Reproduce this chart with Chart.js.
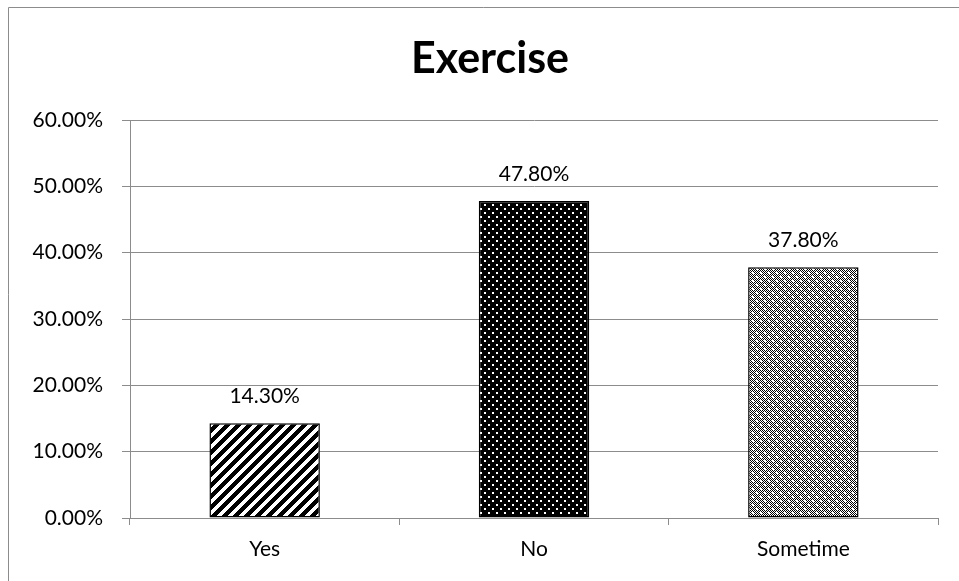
<!DOCTYPE html>
<html>
<head>
<meta charset="utf-8">
<script src="https://cdn.jsdelivr.net/npm/chart.js@4/dist/chart.umd.min.js"></script>
<style>
  html, body { margin: 0; padding: 0; background: #fff; }
  #wrap { width: 959px; height: 581px; }
</style>
</head>
<body>
<div id="wrap"><canvas id="c" width="959" height="581"></canvas></div>
<script>
// Exercise survey answers, share of respondents (%)
const categories = ['Yes', 'No', 'Sometime'];
const shares = [14.3, 47.8, 37.8];
const yTicks = [0, 10, 20, 30, 40, 50, 60];
const chartTitle = 'Exercise';

const FONT = 'Lato, "Open Sans", sans-serif';
const TEXT_SIZE = 21;

// Small fill patterns for the bars
function makeTile(size, painter) {
  const t = document.createElement('canvas');
  t.width = size; t.height = size;
  const g = t.getContext('2d');
  const img = g.createImageData(size, size);
  for (let y = 0; y < size; y++) {
    for (let x = 0; x < size; x++) {
      const black = painter(x, y);
      const i = (y * size + x) * 4;
      const v = black ? 0 : 255;
      img.data[i] = v; img.data[i + 1] = v; img.data[i + 2] = v; img.data[i + 3] = 255;
    }
  }
  g.putImageData(img, 0, 0);
  return g.createPattern(t, 'repeat');
}
const ctx = document.getElementById('c').getContext('2d');
const stripes = makeTile(11, (x, y) => ((x + y) % 11) < 6);
const dotsOnBlack = makeTile(8, (x, y) => {
  const a = (x % 8 < 2) && (y % 8 < 2);
  const b = ((x + 4) % 8 < 2) && ((y + 4) % 8 < 2);
  return !(a || b);
});
const dotsOnGrey = makeTile(8, (x, y) => {
  const a = (x % 8 < 2) && (y % 8 < 2);
  const b = ((x + 4) % 8 < 2) && ((y + 4) % 8 < 2);
  if (a || b) return false;
  return (x + y) % 2 === 0;
});

// Frame lines, title and value labels above the bars
const decorations = {
  id: 'decorations',
  beforeDraw(chart) {
    const c = chart.ctx;
    c.save();
    c.strokeStyle = '#8c8c8c';
    c.lineWidth = 1;
    c.beginPath();
    c.moveTo(8.5, 581);
    c.lineTo(8.5, 7.5);
    c.lineTo(959, 7.5);
    c.stroke();
    c.fillStyle = '#000';
    c.font = 'bold 43px ' + FONT;
    c.textAlign = 'center';
    c.textBaseline = 'alphabetic';
    c.fillText(chartTitle, 490, 73);
    c.restore();
  },
  afterDatasetsDraw(chart) {
    const c = chart.ctx;
    const meta = chart.getDatasetMeta(0);
    c.save();
    c.fillStyle = '#000';
    c.font = TEXT_SIZE + 'px ' + FONT;
    c.textAlign = 'center';
    c.textBaseline = 'middle';
    meta.data.forEach((bar, i) => {
      c.fillText(shares[i].toFixed(2) + '%', bar.x, bar.y - 27);
    });
    c.restore();
  }
};

new Chart(ctx, {
  type: 'bar',
  data: {
    labels: categories,
    datasets: [{
      data: shares,
      backgroundColor: [stripes, dotsOnBlack, dotsOnGrey],
      borderColor: '#000',
      borderWidth: 1.5,
      borderSkipped: false,
      barPercentage: 0.82,
      categoryPercentage: 0.5
    }]
  },
  options: {
    responsive: false,
    animation: false,
    devicePixelRatio: 1,
    layout: { padding: { left: 0, right: 21, top: 120, bottom: 0 } },
    plugins: {
      legend: { display: false },
      tooltip: { enabled: false },
      title: { display: false }
    },
    scales: {
      x: {
        offset: true,
        grid: {
          offset: true,
          drawOnChartArea: false,
          drawTicks: true,
          tickLength: 7,
          color: '#8c8c8c'
        },
        border: { display: true, color: '#8c8c8c', width: 1 },
        ticks: { color: '#000', font: { family: FONT, size: TEXT_SIZE }, padding: 12 },
        afterFit(s) { s.height = 63; }
      },
      y: {
        min: 0,
        max: 60,
        afterBuildTicks(s) { s.ticks = yTicks.map(v => ({ value: v })); },
        grid: { color: '#8c8c8c', tickLength: 8, drawTicks: true },
        border: { display: true, color: '#8c8c8c', width: 1 },
        ticks: {
          color: '#000',
          font: { family: FONT, size: TEXT_SIZE },
          padding: 19,
          callback: v => v.toFixed(2) + '%'
        },
        afterFit(s) { s.width = 130; }
      }
    }
  },
  plugins: [decorations]
});
</script>
</body>
</html>
